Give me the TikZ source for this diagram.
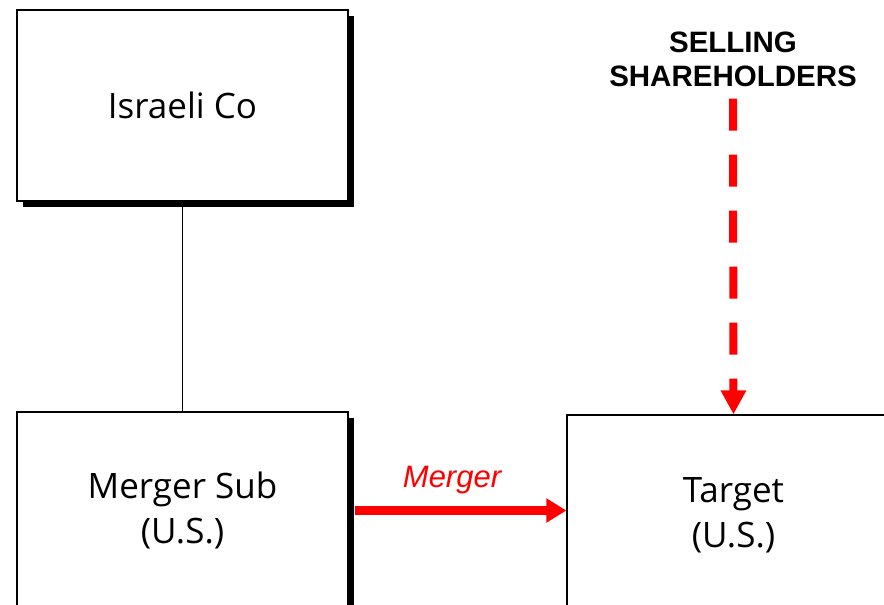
\documentclass[tikz,border=0pt]{standalone}
\usepackage{fontspec}
\setmainfont{Open Sans}
\newfontfamily\arialfont{Liberation Sans}
\usetikzlibrary{arrows.meta,positioning,shadows}
\definecolor{mergeRed}{HTML}{FF0000}
\tikzset{
  entity/.style n args={2}{draw=black, fill=white, line width=1.2pt, align=center,
        font=\fontsize{35}{45}\selectfont, inner sep=0pt, minimum width=#1, minimum height=#2,
        drop shadow={shadow xshift=6pt, shadow yshift=-6pt, fill=black, opacity=1}},
  holders/.style={align=center, font=\arialfont\bfseries\fontsize{29.5}{34}\selectfont, inner sep=2pt},
  own/.style={draw=black, line width=1pt},
  mergeflow/.style={draw=mergeRed, line width=9pt, -{Triangle[length=20pt, width=23pt]}},
  sellflow/.style={draw=mergeRed, line width=8pt, dash pattern=on 32pt off 24pt,
        -{Triangle[length=24pt, width=24pt]}},
  mlab/.style={font=\arialfont\itshape\fontsize{31}{37}\selectfont, text=mergeRed, inner sep=2pt},
}
\begin{document}
\begin{tikzpicture}[x=1pt, y=-1pt]
  \useasboundingbox (0,0) rectangle (884,605);
  \clip (0,0) rectangle (884,605);
  \node[entity={331pt}{191pt}] (isr) at (182.5,105.5) {Israeli Co};
  \node[entity={331pt}{197pt}] (msub) at (182.5,510.5) {Merger Sub\\(U.S.)};
  \node[entity={333pt}{200pt}] (tgt) at (733.5,515) {Target\\(U.S.)};
  \node[holders] (sell) at (733,59) {SELLING\\SHAREHOLDERS};
  \draw[own] (isr.south) -- (msub.north);
  \draw[mergeflow] ([xshift=6pt]msub.east) -- (msub.east -| tgt.west)
        node[mlab, pos=0.46, above=10pt] (mlabel) {Merger};
  \draw[sellflow, shorten <=10pt] (sell.south) -- (tgt.north);
\end{tikzpicture}
\end{document}
